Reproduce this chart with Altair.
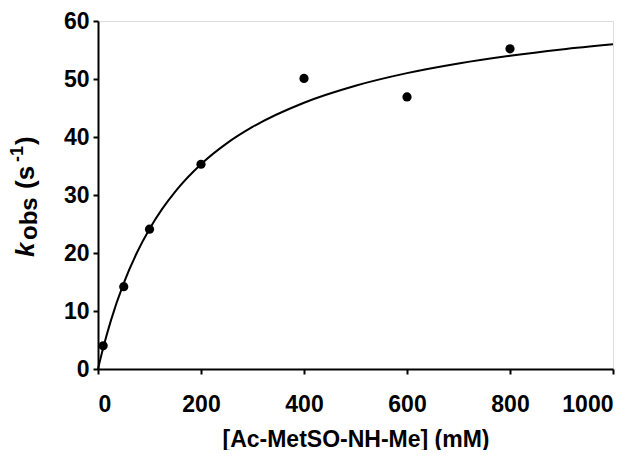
import altair as alt
import pandas as pd

# measured data points
conc = [10, 50, 100, 200, 400, 600, 800]
kobs = [4.0, 14.2, 24.1, 35.3, 50.1, 46.9, 55.2]

# fitted curve
curve_x = [0, 10, 25, 50, 75, 100, 125, 150, 200, 250, 300, 400, 500, 600, 700, 800, 900, 1000]
curve_y = [0, 3.61, 8.34, 14.80, 19.95, 24.15, 27.65, 30.60, 35.31, 38.90, 41.73, 45.91,
           48.84, 51.01, 52.68, 54.01, 55.10, 55.99]

x_ticks = [0, 200, 400, 600, 800, 1000]
y_ticks = [0, 10, 20, 30, 40, 50, 60]

FONT = "Liberation Sans"

pts = pd.DataFrame({"x": conc, "y": kobs})
fit = pd.DataFrame({"x": curve_x, "y": curve_y})

xs = alt.Scale(domain=[0, 1000], nice=False, zero=False)
ys = alt.Scale(domain=[0, 60], nice=False, zero=False)

xaxis = alt.Axis(values=x_ticks, format="d", title="[Ac-MetSO-NH-Me] (mM)", grid=False,
                 domainColor="black", domainWidth=2, tickColor="black", tickWidth=2,
                 tickSize=5, labelFont=FONT, labelFontSize=23, labelFontWeight="bold",
                 labelColor="black", labelPadding=19, titleFont=FONT, titleFontSize=23,
                 titleFontWeight="bold", titleColor="black", titleBaseline="alphabetic",
                 titleY=77)
yaxis = alt.Axis(values=y_ticks, format="d", title=None, grid=False,
                 domainColor="black", domainWidth=2, tickColor="black", tickWidth=2,
                 tickSize=5, labelFont=FONT, labelFontSize=23, labelFontWeight="bold",
                 labelColor="black", labelPadding=4)

line = alt.Chart(fit).mark_line(color="black", strokeWidth=2, interpolate="monotone").encode(
    x=alt.X("x:Q", scale=xs, axis=xaxis),
    y=alt.Y("y:Q", scale=ys, axis=yaxis),
)
points = alt.Chart(pts).mark_circle(color="black", opacity=1, size=85).encode(
    x=alt.X("x:Q", scale=xs),
    y=alt.Y("y:Q", scale=ys),
)

one = pd.DataFrame({"a": [0]})

def piece(txt, px, py, size, style="normal"):
    return alt.Chart(one).mark_text(
        text=txt, angle=270, align="left", baseline="alphabetic",
        font=FONT, fontSize=size, fontWeight="bold", fontStyle=style, color="black",
    ).encode(x=alt.value(px), y=alt.value(py))

ytitle = (
    piece("k", -64, 236, 26, "italic")
    + piece("obs", -61, 219, 24)
    + piece("(s", -64, 168, 26)
    + piece("-1", -75, 141, 18)
    + piece(")", -64, 124, 26)
)

chart = alt.layer(line, points, ytitle).properties(
    width=515, height=348,
    autosize=alt.AutoSizeParams(type="none"),
    padding={"left": 90, "top": 13, "right": 19, "bottom": 81},
).configure_view(stroke="black", strokeWidth=2).configure(background="white")

chart.save("out.html", embed_options={"renderer": "svg", "actions": False})
